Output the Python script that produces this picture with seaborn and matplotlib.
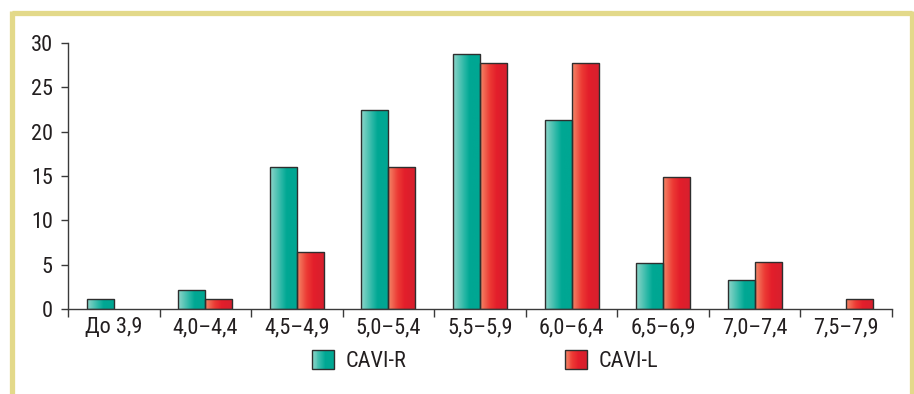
import numpy as np
import pandas as pd
import matplotlib
matplotlib.use("Agg")
import matplotlib.pyplot as plt
import seaborn as sns
from matplotlib import font_manager
from matplotlib.colors import LinearSegmentedColormap
from matplotlib.patches import Rectangle
from matplotlib.legend_handler import HandlerBase
from matplotlib.lines import Line2D

# Distribution of CAVI values (% of patients) by interval
categories = ["До 3,9", "4,0–4,4", "4,5–4,9", "5,0–5,4", "5,5–5,9",
              "6,0–6,4", "6,5–6,9", "7,0–7,4", "7,5–7,9"]
cavi_r = [1.1, 2.1, 16.0, 22.4, 28.8, 21.3, 5.2, 3.3, 0.0]
cavi_l = [0.0, 1.1, 6.4, 16.0, 27.7, 27.7, 14.9, 5.3, 1.1]
series_names = ["CAVI-R", "CAVI-L"]
y_ticks = [0, 5, 10, 15, 20, 25, 30]

df = pd.DataFrame({
    "interval": categories * 2,
    "value": cavi_r + cavi_l,
    "side": [series_names[0]] * len(categories) + [series_names[1]] * len(categories),
})

teal_cmap = LinearSegmentedColormap.from_list(
    "teal", [(0, "#8fd6ca"), (0.45, "#1fb4a2"), (0.6, "#00a793"), (1, "#00a793")])
red_cmap = LinearSegmentedColormap.from_list(
    "red", [(0, "#f48a6a"), (0.35, "#ec3a34"), (0.6, "#e31e2b"), (1, "#d6202e")])
cmaps = {series_names[0]: teal_cmap, series_names[1]: red_cmap}
base_colors = {series_names[0]: "#00a793", series_names[1]: "#e31e2b"}


def pick_narrow_font():
    """Prefer a condensed sans face; fall back to a regular one."""
    entries = font_manager.fontManager.ttflist
    names = {f.name for f in entries}
    for cand in ["Liberation Sans Narrow", "Roboto Condensed", "DejaVu Sans Condensed",
                 "Open Sans Condensed", "Noto Sans Condensed"]:
        if cand in names:
            return cand, "normal"
    for f in entries:
        if f.stretch in ("condensed", "semi-condensed", 500, 300, 400) and \
                f.style == "normal" and f.weight in (400, "normal", "regular"):
            if f.stretch not in ("normal", 500):
                return f.name, f.stretch
    for cand in ["Roboto", "Liberation Sans", "Noto Sans"]:
        if cand in names:
            return cand, "normal"
    return "DejaVu Sans", "normal"


font_name, font_stretch = pick_narrow_font()

sns.set_theme(style="white")
plt.rcParams["font.family"] = [font_name, "DejaVu Sans"]
plt.rcParams["font.stretch"] = font_stretch
plt.rcParams["text.color"] = "#231f20"
FS = 16

fig = plt.figure(figsize=(9.14, 3.94), dpi=100)
ax = fig.add_axes([68 / 914, 1 - 309 / 394, (892 - 68) / 914, (309 - 43) / 394])

sns.barplot(data=df, x="interval", y="value", hue="side", order=categories,
            hue_order=series_names, palette=base_colors, width=0.59, gap=0,
            edgecolor="#2e2e2e", linewidth=1.0, legend=False, ax=ax)

# Paint each bar with a horizontal gradient clipped to its own outline
grad = np.linspace(0, 1, 256).reshape(1, -1)
for container, name in zip(ax.containers, series_names):
    for patch in container.patches:
        x0, y0 = patch.get_x(), patch.get_y()
        w, h = patch.get_width(), patch.get_height()
        if h <= 0:
            patch.set_visible(False)
            continue
        im = ax.imshow(grad, cmap=cmaps[name], aspect="auto",
                       extent=(x0, x0 + w, y0, y0 + h), zorder=patch.get_zorder(),
                       interpolation="bicubic")
        im.set_clip_path(patch)
        patch.set_facecolor("none")
        patch.set_zorder(patch.get_zorder() + 0.1)
ax.set_xlim(-0.5, len(categories) - 0.5)
ax.set_ylim(0, 30)

# Axes styling
for side in ["top", "right"]:
    ax.spines[side].set_visible(False)
for side in ["left", "bottom"]:
    ax.spines[side].set_color("#3a3a3a")
    ax.spines[side].set_linewidth(1.0)

ax.set_yticks(y_ticks)
ax.set_yticklabels([str(t) for t in y_ticks], fontsize=FS)
ax.tick_params(axis="y", direction="out", length=5, width=1, color="#3a3a3a",
               pad=6, left=True, labelcolor="#231f20")
ax.set_xticks(range(len(categories)))
ax.set_xticklabels(categories, fontsize=FS)
ax.tick_params(axis="x", which="major", length=0, pad=6, labelcolor="#231f20")
ax.set_xticks(np.arange(-0.5, len(categories), 1.0), minor=True)
ax.tick_params(axis="x", which="minor", direction="out", length=6, width=1,
               color="#3a3a3a", bottom=True)
ax.set_xlabel("")
ax.set_ylabel("")
ax.grid(False)


class GradientSquare(HandlerBase):
    def __init__(self, cmap, **kw):
        super().__init__(**kw)
        self.cmap = cmap

    def create_artists(self, legend, orig_handle, xdescent, ydescent,
                       width, height, fontsize, trans):
        n = 24
        artists = []
        for i in range(n):
            artists.append(Rectangle((-xdescent + width * i / n, -ydescent),
                                     width / n + 0.3, height,
                                     facecolor=self.cmap((i + 0.5) / n),
                                     edgecolor="none", transform=trans))
        artists.append(Rectangle((-xdescent, -ydescent), width, height,
                                 facecolor="none", edgecolor="#2e2e2e",
                                 linewidth=1.0, transform=trans))
        return artists


# One legend entry per series, placed under the axis
legend_x = [312, 565]
for name, x_px in zip(series_names, legend_x):
    h = Rectangle((0, 0), 1, 1)
    leg = fig.legend([h], [name], handler_map={h: GradientSquare(cmaps[name])},
                     loc="center left", bbox_to_anchor=(x_px / 914, 1 - 361 / 394),
                     frameon=False, fontsize=FS, handlelength=0.98,
                     handleheight=0.98, handletextpad=0.55,
                     borderpad=0, borderaxespad=0)

# Decorative page frame
frame_color = "#e3d98a"
fig.add_artist(Line2D([11.5 / 914, 912 / 914], [1 - 12.5 / 394, 1 - 12.5 / 394],
                      transform=fig.transFigure, color=frame_color, linewidth=3.8,
                      solid_capstyle="butt"))
fig.add_artist(Line2D([11.5 / 914, 11.5 / 914], [0, 1 - 10.5 / 394],
                      transform=fig.transFigure, color=frame_color, linewidth=3.8,
                      solid_capstyle="butt"))
fig.add_artist(Line2D([912 / 914, 912 / 914], [0, 1 - 10.5 / 394],
                      transform=fig.transFigure, color=frame_color, linewidth=3.8,
                      solid_capstyle="butt"))

fig.savefig("out.png", dpi=100, facecolor="white")
